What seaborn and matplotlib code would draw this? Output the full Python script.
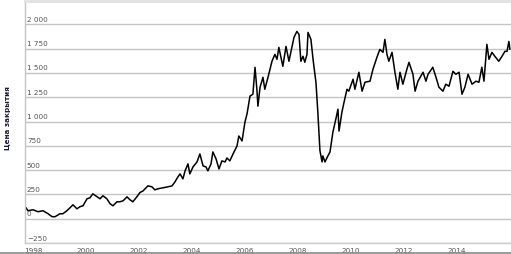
"""
Цена закрытия - линейный график 1998-2015
"""

import numpy as np
import pandas as pd
import matplotlib
matplotlib.use('Agg')
import matplotlib.pyplot as plt
from matplotlib.lines import Line2D
import seaborn as sns

# даты (десятичные годы) и цены закрытия
years = [
    1997.74, 1997.81, 1998.00, 1998.19, 1998.38, 1998.57, 1998.72, 1998.83,
    1999.02, 1999.13, 1999.28, 1999.40, 1999.51, 1999.66, 1999.77, 1999.89,
    2000.04, 2000.15, 2000.26, 2000.42, 2000.53, 2000.64, 2000.79, 2000.91,
    2001.02, 2001.17, 2001.28, 2001.40, 2001.55, 2001.66, 2001.77, 2001.92,
    2002.04, 2002.15, 2002.34, 2002.49, 2002.60, 2002.72, 2002.91,
    2003.09, 2003.25, 2003.36, 2003.47, 2003.55, 2003.66, 2003.74, 2003.85, 2003.92,
    2004.04, 2004.19, 2004.30, 2004.42, 2004.53, 2004.60, 2004.72, 2004.79, 2004.91,
    2005.02, 2005.13, 2005.25, 2005.32, 2005.43, 2005.55, 2005.70, 2005.77, 2005.89,
    2006.00, 2006.08, 2006.19, 2006.30, 2006.38, 2006.45, 2006.49, 2006.57,
    2006.68, 2006.75, 2006.87,
    2007.02, 2007.13, 2007.21, 2007.28, 2007.43, 2007.55, 2007.66, 2007.81,
    2007.85, 2007.96,
    2008.04, 2008.11, 2008.19, 2008.26, 2008.34, 2008.38, 2008.49, 2008.57,
    2008.68, 2008.75, 2008.83, 2008.91, 2008.94,
    2009.02, 2009.13, 2009.21, 2009.32, 2009.43, 2009.51, 2009.55, 2009.66,
    2009.74, 2009.85, 2009.92,
    2010.08, 2010.15, 2010.30, 2010.42, 2010.53, 2010.72, 2010.83, 2010.98,
    2011.09, 2011.21, 2011.28, 2011.36, 2011.43, 2011.55, 2011.66, 2011.77,
    2011.85, 2011.96,
    2012.11, 2012.19, 2012.34, 2012.42, 2012.53, 2012.72, 2012.83, 2012.91,
    2013.09, 2013.21, 2013.32, 2013.47, 2013.58, 2013.70, 2013.85, 2013.96,
    2014.08, 2014.19, 2014.30, 2014.42, 2014.57, 2014.72, 2014.83, 2014.94,
    2015.02, 2015.13, 2015.21, 2015.32, 2015.43, 2015.58, 2015.70, 2015.81,
    2015.89, 2015.96, 2016.00,
]
close_price = [
    113, 82, 92, 72, 82, 51, 21, 20,
    51, 51, 82, 113, 143, 102, 123, 133,
    205, 215, 256, 225, 205, 236, 205, 154,
    133, 174, 174, 184, 225, 195, 174, 225,
    270, 285, 338, 328, 297, 308, 318,
    328, 338, 379, 430, 461, 410, 492, 564, 461,
    533, 584, 666, 543, 533, 492, 564, 687, 615,
    512, 595, 584, 625, 595, 666, 748, 851, 800,
    994, 1080, 1261, 1281, 1558, 1332, 1158, 1353,
    1455, 1332, 1455,
    1620, 1691, 1640, 1763, 1568, 1773, 1620, 1814,
    1865, 1927,
    1896, 1620, 1671, 1609, 1691, 1917, 1845, 1640,
    1400, 1100, 700, 584, 646,
    584, 646, 687, 892, 1025, 1127, 902, 1097,
    1199, 1332, 1312,
    1435, 1332, 1507, 1312, 1404, 1415, 1537, 1660,
    1742, 1712, 1845, 1691, 1620, 1712, 1507, 1332,
    1507, 1384,
    1537, 1609, 1486, 1312, 1415, 1507, 1415, 1486,
    1558, 1455, 1353, 1312, 1384, 1363, 1517, 1486,
    1507, 1281, 1353, 1486, 1384, 1415, 1404, 1558,
    1415, 1794, 1640, 1712, 1671, 1620, 1671, 1722,
    1722, 1824, 1742,
]

y_ticks = [-250, 0, 250, 500, 750, 1000, 1250, 1500, 1750, 2000]
y_tick_labels = ['\u2212250', '0', '250', '500', '750', '1 000', '1 250', '1 500', '1 750', '2 000']
x_ticks = [1998, 2000, 2002, 2004, 2006, 2008, 2010, 2012, 2014]
x_tick_labels = [str(y) for y in x_ticks]

df = pd.DataFrame({'year': years, 'close': close_price})

sns.set_theme(style='white')
plt.rcParams['font.family'] = ['DejaVu Sans']

fig = plt.figure(figsize=(5.11, 2.55), dpi=100)
ax = fig.add_axes([25 / 511, 1 - 244 / 255, 486 / 511, 242 / 255])

sns.lineplot(data=df, x='year', y='close', ax=ax, color='black', linewidth=1.1)

ax.set_xlim(1997.70, 2016.04)
ax.set_ylim(-250, 2240)

# сетка
ax.set_yticks(y_ticks)
ax.set_yticklabels([])
ax.tick_params(axis='y', length=0)
ax.grid(axis='y', color='#c4c4c4', linewidth=1)
ax.grid(axis='x', visible=False)

# подписи оси Y внутри области графика
for v, lab in zip(y_ticks, y_tick_labels):
    ax.text(0.004, v + 25, lab, transform=ax.get_yaxis_transform(),
            ha='left', va='bottom', fontsize=5.2, color='#555555')

ax.set_xticks(x_ticks)
ax.set_xticklabels(x_tick_labels)
ax.tick_params(axis='x', length=2, width=0.6, color='#bbbbbb', pad=1,
               labelsize=5.2, labelcolor='#555555')

ax.set_xlabel('')
ax.set_ylabel('')

for side in ['right']:
    ax.spines[side].set_visible(False)
ax.spines['top'].set_color('#e2e2e2')
ax.spines['top'].set_linewidth(2)
ax.spines['left'].set_color('#c4c4c4')
ax.spines['left'].set_linewidth(1)
ax.spines['bottom'].set_color('#cccccc')
ax.spines['bottom'].set_linewidth(1)

fig.text(8 / 511, 1 - 118 / 255, 'Цена закрытия', rotation=90,
         ha='center', va='center', fontsize=5.2, fontweight='bold', color='#1c1c3a')

# нижняя рамка
fig.add_artist(Line2D([0, 1], [1 - 253.5 / 255] * 2, transform=fig.transFigure,
                      color='#8a8a8a', linewidth=1.2))

fig.savefig('out.png', dpi=100)
